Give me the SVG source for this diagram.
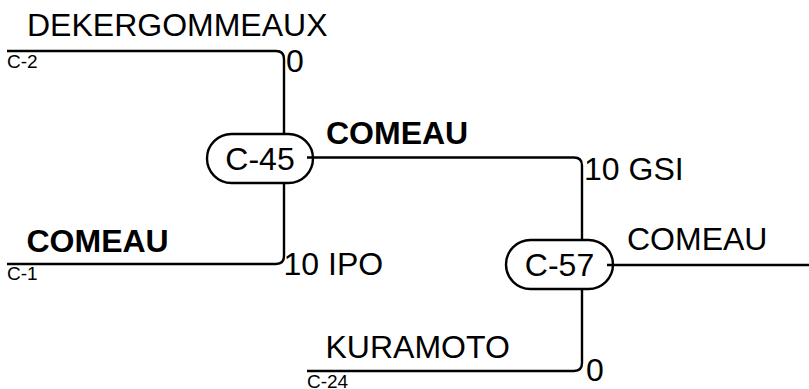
<svg xmlns="http://www.w3.org/2000/svg" width="809" height="389" viewBox="0 0 809 389">
<style>
.bg{fill:#ffffff}
.pill{fill:#ffffff;stroke:#000000;stroke-width:2.4}
.wire{fill:none;stroke:#000000;stroke-width:2.4}
text{font-family:"Liberation Sans",Arial,sans-serif;fill:#000000}
.lbl{font-size:32px}
.b{font-weight:bold}
.sm{font-size:19px}
.nd{font-size:32px;text-anchor:middle}
</style>
<rect class="bg" x="0" y="0" width="809" height="389"/>
<g id="node-c45">
<rect class="pill" x="207" y="134" width="106" height="49" rx="24.5" ry="24.5"/>
<text class="nd" x="260" y="170">C-45</text>
</g>
<g id="node-c57">
<rect class="pill" x="506" y="240" width="107" height="49" rx="24.5" ry="24.5"/>
<text class="nd" x="559.5" y="276">C-57</text>
</g>
<g id="connectors">
<path class="wire" d="M7,51 H276 Q284,51 284,59 V134"/>
<path class="wire" d="M7,264 H276 Q284,264 284,256 V183"/>
<path class="wire" d="M307,157.5 H574 Q582,157.5 582,165.5 V240"/>
<path class="wire" d="M307,371 H574 Q582,371 582,363 V289"/>
<path class="wire" d="M607,265 H809"/>
</g>
<g id="labels">
<text class="lbl" x="27" y="36">DEKERGOMMEAUX</text>
<text class="sm" x="7" y="68">C-2</text>
<text class="lbl" x="286" y="72">0</text>
<text class="lbl b" x="326" y="144">COMEAU</text>
<text class="lbl" x="584" y="180">10 GSI</text>
<text class="lbl b" x="26.5" y="252">COMEAU</text>
<text class="sm" x="7" y="280">C-1</text>
<text class="lbl" x="283.5" y="275">10 IPO</text>
<text class="lbl" x="627" y="250">COMEAU</text>
<text class="lbl" x="325.5" y="358">KURAMOTO</text>
<text class="sm" x="307" y="388">C-24</text>
<text class="lbl" x="586" y="381">0</text>
</g>
</svg>
